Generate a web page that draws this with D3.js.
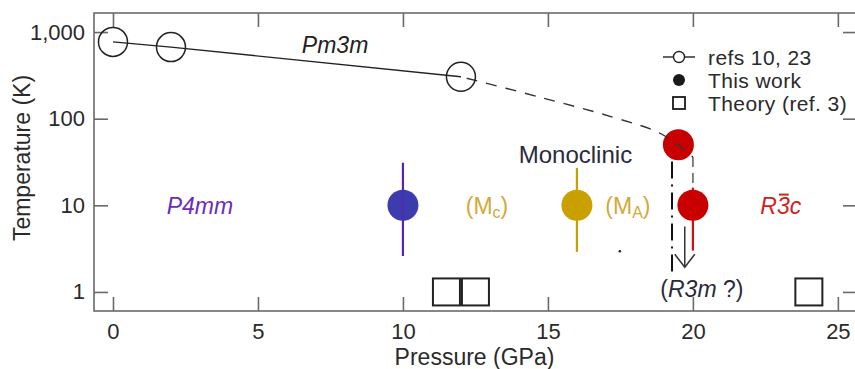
<!DOCTYPE html>
<html>
<head>
<script src="https://d3js.org/d3.v7.min.js"></script>
<style>
  body { margin: 0; background: #fff; }
  text { font-family: "Liberation Sans", Arial, sans-serif; }
</style>
</head>
<body>
<div id="chart"></div>
<script>
// ---- data ----
var refP = [0, 2, 12];
var refT = [770, 670, 305];

var trendP = [12, 14.7, 17.2, 18.9, 20];
var trendT = [305, 178, 105, 67, 36];

var workP = [10, 16, 19.5, 20];
var workT = [10, 10, 50, 10];
var workLo = [2.6, 2.9, null, 3];
var workHi = [31, 27, null, 16];
var workFill = ["#3d3cae", "#c9a000", "#c80000", "#c80000"];
var workBar = ["#5a22b4", "#c9a000", null, "#d01010"];

var theoryP = [11.5, 12.5, 24];
var theoryT = [1, 1, 1];

var xTicks = [0, 5, 10, 15, 20, 25];
var yTicks = [1, 10, 100, 1000];

var width = 855, height = 369;
var margin = {top: 13, right: -2, bottom: 58, left: 94};

var svg = d3.select("#chart").append("svg")
    .attr("width", width)
    .attr("height", height);

var x = d3.scaleLinear()
    .domain([-0.655, 25.66])
    .range([margin.left, width - margin.right]);

var y = d3.scaleLog()
    .domain([Math.pow(10, -0.22), Math.pow(10, 3.22)])
    .range([height - margin.bottom, margin.top]);

var axisColor = "#6a6a6a";
var textColor = "#2a2a2a";
var tickLen = 14;

// frame
svg.append("rect")
    .attr("x", x.range()[0]).attr("y", y.range()[1])
    .attr("width", x.range()[1] - x.range()[0])
    .attr("height", y.range()[0] - y.range()[1])
    .attr("fill", "none")
    .attr("stroke", axisColor)
    .attr("stroke-width", 1.6);

// axes with inward ticks
var xb = svg.append("g")
    .attr("transform", "translate(0," + y.range()[0] + ")")
    .call(d3.axisBottom(x).tickValues(xTicks).tickSizeInner(-tickLen).tickSizeOuter(0).tickPadding(7));
var xt = svg.append("g")
    .attr("transform", "translate(0," + y.range()[1] + ")")
    .call(d3.axisTop(x).tickValues(xTicks).tickSizeInner(-tickLen).tickSizeOuter(0).tickFormat(""));
var yl = svg.append("g")
    .attr("transform", "translate(" + x.range()[0] + ",0)")
    .call(d3.axisLeft(y).tickValues(yTicks).tickSizeInner(-tickLen).tickSizeOuter(0).tickPadding(9)
        .tickFormat(d3.format(",")));
var yr = svg.append("g")
    .attr("transform", "translate(" + x.range()[1] + ",0)")
    .call(d3.axisRight(y).tickValues(yTicks).tickSizeInner(-tickLen).tickSizeOuter(0).tickFormat(""));

[xb, xt, yl, yr].forEach(function (g) {
    g.select(".domain").remove();
    g.selectAll(".tick line").attr("stroke", axisColor).attr("stroke-width", 1.6);
    g.selectAll(".tick text")
        .attr("fill", textColor)
        .style("font-size", "22px")
        .style("font-family", "'Liberation Sans', Arial, sans-serif");
});
xb.selectAll(".tick text").attr("dy", "0.95em");

// axis titles
svg.append("text")
    .attr("x", (x.range()[0] + x.range()[1]) / 2 - 1)
    .attr("y", 365)
    .attr("text-anchor", "middle")
    .attr("fill", textColor)
    .style("font-size", "23px")
    .text("Pressure (GPa)");

svg.append("text")
    .attr("transform", "translate(30,158) rotate(-90)")
    .attr("text-anchor", "middle")
    .attr("fill", textColor)
    .style("font-size", "23px")
    .text("Temperature (K)");

// refs 10, 23 : solid line + open circles
var refData = refP.map(function (p, i) { return [p, refT[i]]; });
svg.append("path")
    .datum(refData)
    .attr("fill", "none")
    .attr("stroke", "#222")
    .attr("stroke-width", 1.4)
    .attr("d", d3.line().x(d => x(d[0])).y(d => y(d[1])));

// dashed continuation
var trendData = trendP.map(function (p, i) { return [p, trendT[i]]; });

// boundary lines
svg.append("line")
    .attr("x1", x(19.28)).attr("x2", x(19.28))
    .attr("y1", y(32)).attr("y2", y(1.5))
    .attr("stroke", "#111").attr("stroke-width", 2)
    .attr("stroke-dasharray", "17,6,2,6");

svg.append("line")
    .attr("x1", x(20)).attr("x2", x(20))
    .attr("y1", y(36)).attr("y2", y(16))
    .attr("stroke", "#777").attr("stroke-width", 1.8)
    .attr("stroke-dasharray", "10,6");

// error bars
workP.forEach(function (p, i) {
    if (workLo[i] == null) return;
    svg.append("line")
        .attr("x1", x(p)).attr("x2", x(p))
        .attr("y1", y(workHi[i])).attr("y2", y(workLo[i]))
        .attr("stroke", workBar[i]).attr("stroke-width", 2.2);
});

// This work circles
svg.selectAll(".work")
    .data(workP)
    .enter().append("circle")
    .attr("class", "work")
    .attr("cx", d => x(d))
    .attr("cy", (d, i) => y(workT[i]))
    .attr("r", 15.5)
    .attr("fill", (d, i) => workFill[i]);

// error bar visible through the blue circle
svg.append("line")
    .attr("x1", x(workP[0])).attr("x2", x(workP[0]))
    .attr("y1", y(workT[0]) - 15).attr("y2", y(workT[0]) + 15)
    .attr("stroke", workBar[0]).attr("stroke-width", 2).attr("opacity", 0.6);

svg.append("path")
    .datum(trendData)
    .attr("fill", "none")
    .attr("stroke", "#333")
    .attr("stroke-width", 1.4)
    .attr("stroke-dasharray", "11,9")
    .attr("stroke-dashoffset", -26)
    .attr("d", d3.line().x(d => x(d[0])).y(d => y(d[1])).curve(d3.curveCatmullRom));

// open reference circles
svg.selectAll(".ref")
    .data(refData)
    .enter().append("circle")
    .attr("class", "ref")
    .attr("cx", d => x(d[0]))
    .attr("cy", d => y(d[1]))
    .attr("r", 14.5)
    .attr("fill", "none")
    .attr("stroke", "#222")
    .attr("stroke-width", 1.5);

// theory squares
var sq = 27;
svg.selectAll(".theory")
    .data(theoryP)
    .enter().append("rect")
    .attr("class", "theory")
    .attr("x", d => x(d) - sq / 2)
    .attr("y", (d, i) => y(theoryT[i]) - sq / 2)
    .attr("width", sq).attr("height", sq)
    .attr("fill", "none")
    .attr("stroke", "#222")
    .attr("stroke-width", 2);

// arrow to R3m
var ax = x(19.72), ay1 = y(5.7), ay2 = y(1.93);
svg.append("line")
    .attr("x1", ax).attr("x2", ax).attr("y1", ay1).attr("y2", ay2)
    .attr("stroke", "#333").attr("stroke-width", 1.5);
svg.append("path")
    .attr("d", "M" + (ax - 10) + "," + (ay2 - 13) + "L" + ax + "," + ay2 + "L" + (ax + 10) + "," + (ay2 - 13))
    .attr("fill", "none").attr("stroke", "#333").attr("stroke-width", 1.5);

// stray dot
svg.append("circle")
    .attr("cx", x(17.48)).attr("cy", y(2.95)).attr("r", 1.3).attr("fill", "#222");

// phase labels
function label(p, t, txt, color, italic) {
    return svg.append("text")
        .attr("x", x(p)).attr("y", y(t))
        .attr("dy", "0.36em")
        .attr("text-anchor", "middle")
        .attr("fill", color)
        .style("font-size", "23px")
        .style("font-style", italic ? "italic" : "normal")
        .text(txt);
}
label(7.66, 720, "Pm3m", "#222", true);
label(3.0, 10, "P4mm", "#6a2cc0", true);
svg.append("text")
    .attr("x", x(15.95)).attr("y", 163)
    .attr("text-anchor", "middle")
    .attr("fill", "#2a2a3a")
    .style("font-size", "24px")
    .text("Monoclinic");

var mc = label(12.9, 10, "(M", "#d2a93a", false);
mc.append("tspan").attr("baseline-shift", "-25%").style("font-size", "16px").text("c");
mc.append("tspan").text(")");

var ma = label(17.76, 10, "(M", "#d2a93a", false);
ma.append("tspan").attr("baseline-shift", "-25%").style("font-size", "16px").text("A");
ma.append("tspan").text(")");

var r3c = label(23.03, 10, "", "#d42020", true);
r3c.append("tspan").text("R");
r3c.append("tspan").text("3");
r3c.append("tspan").text("c");
var ext = r3c.node().getExtentOfChar(1);
svg.append("line")
    .attr("x1", ext.x + 2).attr("x2", ext.x + ext.width - 1)
    .attr("y1", ext.y + 2).attr("y2", ext.y + 2)
    .attr("stroke", "#d42020").attr("stroke-width", 2);

var r3m = svg.append("text")
    .attr("x", x(20.31)).attr("y", 297)
    .attr("text-anchor", "middle")
    .attr("fill", "#2a2a3a")
    .style("font-size", "23px");
r3m.append("tspan").text("(");
r3m.append("tspan").style("font-style", "italic").text("R3m");
r3m.append("tspan").text(" ?)");

// legend
var lx = 679, lt = 708;
var leg = svg.append("g");
leg.append("line").attr("x1", lx - 16).attr("x2", lx + 16).attr("y1", 57).attr("y2", 57)
    .attr("stroke", "#222").attr("stroke-width", 1.4);
leg.append("circle").attr("cx", lx).attr("cy", 57).attr("r", 5.5)
    .attr("fill", "#fff").attr("stroke", "#222").attr("stroke-width", 1.4);
leg.append("circle").attr("cx", lx).attr("cy", 80).attr("r", 6).attr("fill", "#1a1a1a");
leg.append("rect").attr("x", lx - 6).attr("y", 97).attr("width", 12).attr("height", 12)
    .attr("fill", "none").attr("stroke", "#1a1a1a").attr("stroke-width", 1.8);
[["refs 10, 23", 57], ["This work", 80], ["Theory (ref. 3)", 103]].forEach(function (d) {
    leg.append("text")
        .attr("x", lt).attr("y", d[1]).attr("dy", "0.36em")
        .attr("fill", textColor)
        .style("font-size", "21px")
        .style("letter-spacing", "0.4px")
        .text(d[0]);
});
</script>
</body>
</html>
